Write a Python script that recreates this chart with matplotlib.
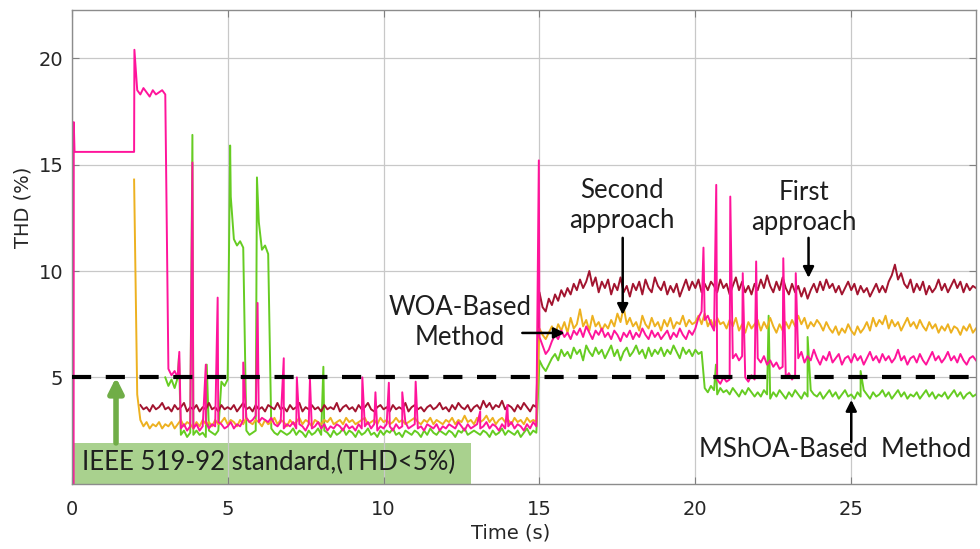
import numpy as np
import matplotlib

matplotlib.use("Agg")
import matplotlib.pyplot as plt  # noqa: E402
from matplotlib.patches import Rectangle  # noqa: E402

N = np.nan

# THD traces sampled every 0.1 s from t = 2.0 s to t = 29.0 s (one row per second)
TIME_START = 2.0
TIME_STEP = 0.1

FIRST = [
    N, N, 3.7, 3.5, 3.6, 3.4, 3.7, 3.5, 3.6, 3.8,
    3.5, 3.6, 3.4, 3.7, 3.5, 3.6, 3.8, 3.4, 3.6, 3.5,
    3.7, 3.4, 3.6, 3.5, 3.8, 3.5, 3.6, 3.4, 3.7, 3.5,
    3.6, 3.5, 3.7, 3.4, 3.6, 3.8, 3.5, 3.6, 3.4, 3.7,
    3.5, 3.6, 3.4, 3.7, 3.6, 3.5, 3.8, 3.5, 3.6, 3.4,
    3.7, 3.5, 3.6, 3.8, 3.4, 3.6, 3.5, 3.7, 3.5, 3.6,
    3.4, 3.7, 3.5, 3.6, 3.5, 3.8, 3.4, 3.6, 3.7, 3.5,
    3.6, 3.4, 3.7, 3.5, 3.6, 3.8, 3.5, 3.4, 3.6, 3.7,
    3.5, 3.6, 3.4, 3.7, 3.5, 3.6, 3.5, 3.8, 3.4, 3.6,
    3.7, 3.5, 3.6, 3.4, 3.6, 3.7, 3.5, 3.6, 3.8, 3.5,
    3.6, 3.4, 3.7, 3.5, 3.8, 3.6, 3.5, 3.7, 3.4, 3.6,
    3.7, 3.5, 3.9, 3.6, 3.8, 3.5, 3.7, 3.6, 3.9, 3.5,
    3.7, 3.6, 3.4, 3.7, 3.5, 3.8, 3.6, 3.4, 3.7, 3.6,
    9.0, 8.3, 8.1, 8.7, 8.4, 8.9, 8.6, 9.1, 8.8, 9.2,
    8.9, 9.4, 9.1, 9.6, 9.2, 9.5, 10.0, 9.3, 9.7, 9.0,
    9.5, 9.2, 9.6, 8.9, 9.4, 9.1, 9.7, 9.0, 9.3, 8.8,
    9.4, 9.1, 9.5, 8.9, 9.6, 9.2, 9.0, 9.7, 9.3, 9.1,
    9.5, 8.9, 9.3, 9.0, 9.4, 8.8, 9.2, 9.6, 9.1, 9.5,
    9.2, 9.6, 9.0, 9.4, 9.1, 9.5, 9.3, 9.0, 9.6, 9.2,
    9.4, 8.9, 9.3, 9.7, 9.1, 9.5, 9.0, 9.3, 8.9, 9.4,
    9.1, 9.6, 9.2, 9.8, 9.3, 9.0, 9.5, 9.1, 9.7, 9.2,
    8.9, 9.4, 9.0, 9.3, 8.8, 9.2, 8.7, 9.1, 9.4, 9.0,
    9.5, 9.1, 9.6, 9.2, 9.4, 9.0, 9.3, 8.9, 9.2, 9.5,
    9.1, 9.4, 8.9, 9.3, 9.0, 9.2, 8.8, 9.1, 9.4, 9.0,
    9.3, 9.0, 9.5, 9.8, 10.3, 9.6, 9.9, 9.4, 9.2, 9.6,
    9.0, 9.4, 9.1, 9.5, 8.9, 9.3, 9.0, 9.2, 9.6, 9.1,
    9.4, 9.0, 9.3, 9.6, 9.2, 9.5, 9.0, 9.4, 9.1, 9.3,
    9.2,
]

SECOND = [
    14.3, 4.2, 3.0, 2.7, 2.9, 2.6, 2.8, 2.7, 2.9, 2.6,
    2.8, 2.7, 2.9, 2.6, 2.8, 3.0, 2.7, 2.9, 2.8, 2.6,
    2.9, 2.7, 3.0, 2.8, 2.9, 2.7, 3.0, 2.8, 2.9, 3.1,
    2.8, 3.0, 2.9, 2.7, 3.0, 2.8, 3.1, 2.9, 2.8, 3.0,
    2.9, 2.7, 3.0, 2.8, 2.9, 3.1, 2.8, 3.0, 2.9, 2.7,
    3.0, 2.8, 2.9, 3.1, 2.8, 3.0, 2.9, 2.7, 3.0, 2.9,
    2.8, 3.0, 2.9, 3.1, 2.8, 2.9, 3.0, 2.8, 3.1, 2.9,
    3.0, 2.8, 2.9, 3.0, 3.1, 2.8, 2.9, 3.0, 2.8, 3.1,
    2.9, 3.0, 2.8, 2.9, 3.1, 2.9, 3.0, 2.8, 2.9, 3.0,
    3.1, 2.9, 2.8, 3.0, 2.9, 3.1, 2.8, 3.0, 2.9, 2.8,
    3.0, 2.9, 3.1, 2.8, 3.0, 2.9, 3.2, 2.9, 3.0, 2.8,
    3.1, 2.9, 3.0, 3.2, 2.9, 3.1, 2.8, 3.0, 3.1, 2.9,
    3.0, 2.8, 3.1, 2.9, 3.0, 2.8, 3.1, 2.9, 3.0, 2.9,
    7.3, 7.0, 6.8, 7.1, 7.4, 7.0, 7.5, 7.2, 7.6, 7.1,
    7.8, 7.3, 7.5, 8.2, 7.4, 7.7, 7.2, 7.9, 7.4, 7.6,
    7.2, 7.5, 7.3, 7.7, 7.4, 8.0, 7.6, 8.3, 7.5, 7.8,
    7.4, 7.6, 7.2, 7.9, 7.5, 7.3, 7.8, 7.4, 7.6, 7.2,
    7.7, 7.4, 7.8, 7.3, 7.6, 7.5, 7.9, 7.4, 7.7, 7.5,
    7.6, 7.9, 7.5, 8.0, 7.4, 7.7, 7.3, 7.8, 7.5, 7.6,
    7.3, 7.7, 7.4, 7.8, 7.2, 7.5, 7.1, 7.6, 7.3, 7.5,
    7.7, 7.2, 7.6, 7.3, 7.8, 7.4, 7.1, 7.5, 7.2, 7.6,
    7.3, 7.7, 7.4, 7.9, 7.5, 7.8, 7.3, 7.6, 7.4, 7.7,
    7.5, 7.2, 7.6, 7.3, 7.1, 7.4, 7.0, 7.3, 7.1, 7.5,
    7.2, 7.0, 7.4, 7.1, 7.3, 7.6, 7.2, 7.8, 7.4, 7.7,
    7.5, 7.9, 7.3, 7.7, 7.4, 7.6, 7.2, 7.5, 7.8, 7.4,
    7.6, 7.3, 7.7, 7.4, 7.2, 7.6, 7.3, 7.5, 7.1, 7.4,
    7.2, 7.5, 7.1, 7.4, 7.3, 7.0, 7.4, 7.2, 7.5, 7.1,
    7.3,
]

WOA = [
    15.6, 18.5, 18.3, 18.6, 18.4, 18.2, 18.5, 18.3, 18.4, 18.5,
    18.3, 5.4, 5.1, 5.3, 5.0, 2.6, 2.8, 2.5, 2.7, 2.6,
    2.8, 2.5, 2.7, 2.9, 2.6, 2.8, 2.7, 2.9, 2.8, 2.6,
    2.7, 2.9, 2.6, 2.8, 2.7, 3.0, 3.1, 2.9, 3.0, 3.2,
    2.9, 3.1, 3.0, 2.9, 3.1, 2.8, 2.7, 2.9, 2.6, 2.8,
    2.7, 2.9, 2.6, 2.8, 2.7, 2.5, 2.8, 2.6, 2.7, 2.9,
    2.6, 2.8, 2.5, 2.7, 2.6, 2.8, 2.7, 2.5, 2.8, 2.6,
    2.7, 2.5, 2.8, 2.6, 2.7, 2.9, 2.6, 2.8, 2.5, 2.7,
    2.6, 2.8, 2.7, 2.5, 2.8, 2.6, 2.7, 2.9, 2.6, 2.7,
    2.8, 2.6, 2.7, 2.5, 2.8, 2.7, 2.6, 2.8, 2.5, 2.7,
    2.6, 2.8, 2.7, 2.6, 2.9, 2.7, 2.5, 2.8, 2.6, 2.7,
    2.8, 2.6, 2.7, 2.9, 2.6, 2.8, 2.7, 2.5, 2.8, 2.6,
    2.7, 2.9, 2.6, 2.8, 2.7, 2.5, 2.8, 2.6, 2.9, 2.7,
    6.9, 6.5, 6.1, 6.3, 6.7, 7.0, 6.8, 7.2, 6.9, 7.1,
    6.8, 7.2, 7.0, 7.3, 6.9, 7.4, 7.1, 6.8, 7.2, 7.0,
    7.3, 6.9, 7.1, 6.8, 7.2, 7.0, 6.7, 7.1, 6.9, 7.2,
    6.8, 7.1, 6.9, 7.3, 7.0, 6.8, 7.2, 6.9, 7.1, 6.8,
    7.0, 7.2, 6.8, 7.1, 6.9, 7.3, 7.0, 6.8, 7.2, 7.0,
    7.3, 7.8, 8.1, 7.7, 7.9, 7.5, 7.2, 4.9, 4.7, 5.0,
    4.8, 4.9, 5.9, 6.1, 5.8, 6.0, 5.0, 4.8, 5.1, 4.9,
    5.9, 5.7, 6.0, 5.6, 5.8, 5.5, 5.7, 5.4, 5.5, 5.0,
    5.2, 4.9, 5.1, 5.9, 6.2, 5.7, 6.0, 5.8, 6.3, 5.9,
    5.6, 6.0, 5.8, 6.2, 5.7, 5.9, 6.1, 5.6, 5.9, 6.0,
    5.7, 6.1, 5.8, 6.0, 5.6, 5.9, 6.2, 5.8, 6.0, 5.7,
    6.1, 5.8, 6.0, 5.7, 5.9, 6.3, 5.8, 6.0, 5.6, 5.9,
    6.0, 5.7, 6.1, 5.8, 5.6, 5.9, 6.2, 5.8, 6.0, 5.7,
    5.9, 6.2, 5.8, 6.0, 5.7, 6.1, 5.8, 5.6, 5.9, 6.0,
    5.8,
]

MSHOA = [
    N, N, N, N, N, N, N, N, N, N,
    5.0, 4.6, 4.9, 4.5, 5.0, 2.3, 2.5, 2.2, 2.4, 2.3,
    2.5, 2.3, 2.4, 2.2, 2.5, 2.4, 2.3, 2.5, 4.8, 4.6,
    4.9, 13.5, 11.5, 11.2, 11.4, 11.1, 2.5, 2.3, 2.4, 2.5,
    12.3, 11.0, 11.2, 10.8, 2.6, 2.4, 2.3, 2.5, 2.4, 2.3,
    2.4, 2.6, 2.3, 2.5, 2.4, 2.2, 2.5, 2.3, 2.4, 2.6,
    2.3, 2.5, 2.4, 2.2, 2.5, 2.3, 2.4, 2.6, 2.3, 2.5,
    2.4, 2.2, 2.5, 2.3, 2.4, 2.6, 2.3, 2.4, 2.2, 2.5,
    2.3, 2.5, 2.4, 2.6, 2.3, 2.4, 2.2, 2.5, 2.4, 2.3,
    2.5, 2.4, 2.2, 2.5, 2.3, 2.6, 2.4, 2.3, 2.5, 2.4,
    2.3, 2.5, 2.4, 2.2, 2.5, 2.4, 2.6, 2.3, 2.4, 2.5,
    2.4, 2.3, 2.5, 2.4, 2.2, 2.5, 2.3, 2.4, 2.6, 2.3,
    2.5, 2.4, 2.3, 2.5, 2.2, 2.4, 2.6, 2.3, 2.5, 2.4,
    5.8, 5.5, 5.3, 5.6, 5.9, 6.1, 5.8, 6.3, 6.0, 6.2,
    5.9, 6.4, 6.1, 6.3, 5.8, 6.5, 6.2, 6.0, 6.4, 6.1,
    6.3, 5.9, 6.2, 6.5, 6.0, 6.3, 5.8, 6.2, 6.4, 6.0,
    6.2, 6.5, 6.1, 6.3, 5.9, 6.4, 6.0, 6.3, 6.1, 6.4,
    6.0, 6.3, 6.1, 6.5, 6.2, 5.9, 6.4, 6.1, 6.3, 6.0,
    6.3, 6.1, 6.2, 4.5, 4.3, 4.6, 4.4, 4.2, 4.5, 4.3,
    4.4, 4.2, 4.5, 4.3, 4.1, 4.4, 4.2, 4.5, 4.3, 4.1,
    4.3, 4.1, 4.4, 4.2, 4.0, 4.3, 4.1, 4.4, 4.2, 4.0,
    4.3, 4.1, 4.4, 4.2, 4.0, 4.3, 4.1, 4.4, 4.2, 4.1,
    4.3, 4.0, 4.2, 4.4, 4.1, 4.3, 4.0, 4.2, 4.4, 4.1,
    4.2, 4.0, 4.3, 4.1, 4.4, 4.2, 4.0, 4.3, 4.1, 4.2,
    4.4, 4.1, 4.3, 4.0, 4.2, 4.4, 4.1, 4.3, 4.0, 4.2,
    4.1, 4.3, 4.0, 4.2, 4.4, 4.1, 4.3, 4.0, 4.2, 4.1,
    4.3, 4.0, 4.2, 4.4, 4.1, 4.3, 4.0, 4.2, 4.3, 4.1,
    4.2,
]

# WOA trace before 2 s (start-up step) and the short spikes of each trace
WOA_LEAD_T = [0.06, 0.065, 0.09, 1.99]
WOA_LEAD_V = [0.0, 17.0, 15.6, 15.6]
WOA_SPIKE_T = [2.01, 3.45, 3.87, 4.30, 4.68, 5.50, 5.96, 6.80, 7.22, 7.64, 9.32, 9.74,
               10.17, 10.60, 11.03, 13.10, 13.97, 14.98, 20.26, 20.67, 21.12, 21.52,
               21.95, 22.82, 23.22]
WOA_SPIKE_V = [20.4, 6.2, 15.1, 5.6, 8.75, 5.7, 8.5, 5.9, 5.0, 4.9, 5.0, 4.3,
               4.75, 4.3, 4.8, 3.4, 3.7, 15.2, 11.1, 14.05, 13.5, 9.9,
               10.45, 10.6, 9.9]
MSHOA_SPIKE_T = [3.44, 3.87, 4.33, 5.08, 5.94, 8.07, 20.66, 22.35, 23.60, 25.30]
MSHOA_SPIKE_V = [6.0, 16.4, 5.6, 15.9, 14.4, 5.5, 5.6, 7.9, 6.9, 5.3]

IEEE_LIMIT = 5.0

COLORS = {
    "first": "#A2142F",
    "second": "#EDB120",
    "woa": "#FF149B",
    "mshoa": "#66CC22",
}
AXIS_TEXT = "#262626"
NOTE_FONT = ["Lato", "DejaVu Sans"]


def trace(values, spike_t=(), spike_v=(), lead_t=(), lead_v=()):
    t = TIME_START + TIME_STEP * np.arange(len(values))
    t = np.concatenate([lead_t, t, spike_t])
    v = np.concatenate([lead_v, values, spike_v])
    order = np.argsort(t, kind="stable")
    return t[order], v[order]


def arrow(ax, tip, tail, color="black", lw=1.8, scale=16):
    ax.annotate(
        "",
        xy=tip,
        xytext=tail,
        arrowprops=dict(arrowstyle="-|>", color=color, lw=lw, mutation_scale=scale,
                        shrinkA=0, shrinkB=0),
        zorder=6,
    )


def main():
    plt.rcParams.update({"font.family": ["DejaVu Sans"], "font.size": 14})
    fig = plt.figure(figsize=(9.8, 5.49), dpi=100)
    ax = fig.add_axes([0.0732, 0.1188, 0.9227, 0.8630])

    ax.add_patch(Rectangle((0, 0), 12.8, 1.92, facecolor="#A9D18E", edgecolor="none", zorder=0.2))

    series = [
        (trace(MSHOA, MSHOA_SPIKE_T, MSHOA_SPIKE_V), COLORS["mshoa"]),
        (trace(FIRST), COLORS["first"]),
        (trace(SECOND), COLORS["second"]),
        (trace(WOA, WOA_SPIKE_T, WOA_SPIKE_V, WOA_LEAD_T, WOA_LEAD_V), COLORS["woa"]),
    ]
    for (t, v), color in series:
        ax.plot(t, v, color=color, lw=1.4, zorder=2)

    ax.axhline(IEEE_LIMIT, color="black", lw=3, dashes=(4.6, 3.5), zorder=4)

    ax.set_xlim(0, 29)
    ax.set_ylim(0, 22.27)
    ax.set_xticks([0, 5, 10, 15, 20, 25])
    ax.set_yticks([5, 10, 15, 20])
    ax.set_axisbelow("line")
    ax.grid(True, color="#C8C8C8", lw=0.9)
    ax.tick_params(direction="in", top=True, right=True, length=5, color="#808080",
                   labelcolor=AXIS_TEXT, labelsize=14)
    ax.tick_params(axis="x", pad=12)
    ax.tick_params(axis="y", pad=6)
    for spine in ax.spines.values():
        spine.set_color("#8C8C8C")
        spine.set_linewidth(1.0)

    ax.set_xlabel("Time (s)", color=AXIS_TEXT, fontsize=14)
    ax.set_ylabel("THD (%)", color=AXIS_TEXT, fontsize=14)
    ax.xaxis.label.set_va("center")
    ax.yaxis.label.set_va("center")
    ax.xaxis.set_label_coords(0.485, -0.104)
    ax.yaxis.set_label_coords(-0.054, 0.584)

    note = dict(fontsize=18.5, family=NOTE_FONT, color="#1E1E1E", zorder=7,
                ha="center", va="center", linespacing=1.25)
    ax.text(17.64, 13.1, "Second\napproach", **note)
    ax.text(23.47, 13.0, "First\napproach", **note)
    ax.text(12.45, 7.6, "WOA-Based\nMethod", **note)
    ax.text(24.48, 1.59, "MShOA-Based  Method", **note)
    ax.text(0.33, 0.98, "IEEE 519-92 standard,(THD<5%)", **{**note, "ha": "left"})

    arrow(ax, (17.67, 7.94), (17.67, 11.56))
    arrow(ax, (23.63, 9.68), (23.63, 11.56))
    arrow(ax, (15.81, 7.09), (14.45, 7.09))
    arrow(ax, (25.0, 3.94), (25.0, 1.97))
    arrow(ax, (1.42, 5.0), (1.42, 1.92), color="#70AD47", lw=4, scale=22)

    fig.savefig("out.png", dpi=100)


if __name__ == "__main__":
    main()
